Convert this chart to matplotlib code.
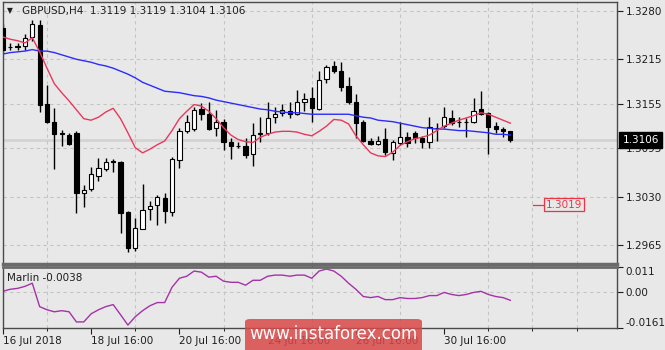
import numpy as np
import matplotlib

matplotlib.use("Agg")
import matplotlib.pyplot as plt
from matplotlib.patches import FancyBboxPatch

plt.rcParams.update({"font.family": "DejaVu Sans", "font.size": 7.5})

# GBPUSD H4, 16 Jul 16:00 .. 1 Aug 04:00
opens = [1.3257, 1.3231, 1.3233, 1.3233, 1.3245, 1.3261, 1.3155, 1.3131, 1.3116, 1.3113,
         1.3116, 1.3035, 1.3040, 1.3058, 1.3067, 1.3078, 1.3077, 1.3009, 1.2961, 1.2987,
         1.3014, 1.3019, 1.3028, 1.3009, 1.3079, 1.3119, 1.3121, 1.3148, 1.3141, 1.3123,
         1.3131, 1.3104, 1.3098, 1.3098, 1.3088, 1.3115, 1.3116, 1.3137, 1.3143, 1.3145,
         1.3141, 1.3158, 1.3163, 1.3148, 1.3188, 1.3206, 1.3199, 1.3179, 1.3158, 1.3131,
         1.3105, 1.3101, 1.3108, 1.3089, 1.3102, 1.3110, 1.3116, 1.3109, 1.3104, 1.3123,
         1.3125, 1.3136, 1.3131, 1.3131, 1.3131, 1.3148, 1.3143, 1.3125, 1.3121, 1.3119]
highs = [1.3262, 1.3237, 1.3237, 1.3249, 1.3268, 1.3268, 1.3180, 1.3149, 1.3120, 1.3116,
         1.3119, 1.3046, 1.3070, 1.3082, 1.3082, 1.3081, 1.3078, 1.3011, 1.3001, 1.3047,
         1.3024, 1.3032, 1.3035, 1.3083, 1.3123, 1.3140, 1.3151, 1.3156, 1.3158, 1.3147,
         1.3135, 1.3109, 1.3104, 1.3109, 1.3129, 1.3137, 1.3158, 1.3151, 1.3155, 1.3158,
         1.3174, 1.3170, 1.3178, 1.3199, 1.3207, 1.3213, 1.3211, 1.3191, 1.3168, 1.3133,
         1.3109, 1.3112, 1.3123, 1.3106, 1.3131, 1.3117, 1.3119, 1.3112, 1.3137, 1.3129,
         1.3151, 1.3147, 1.3137, 1.3136, 1.3163, 1.3172, 1.3144, 1.3131, 1.3124, 1.3119]
lows = [1.3225, 1.3228, 1.3228, 1.3228, 1.3240, 1.3144, 1.3129, 1.3067, 1.3098, 1.3100,
        1.3008, 1.3016, 1.3038, 1.3051, 1.3065, 1.3063, 1.2981, 1.2956, 1.2957, 1.2987,
        1.2999, 1.2992, 1.2995, 1.3004, 1.3069, 1.3116, 1.3119, 1.3133, 1.3120, 1.3112,
        1.3093, 1.3081, 1.3096, 1.3082, 1.3071, 1.3104, 1.3113, 1.3129, 1.3139, 1.3136,
        1.3140, 1.3145, 1.3131, 1.3147, 1.3183, 1.3197, 1.3172, 1.3155, 1.3109, 1.3104,
        1.3100, 1.3100, 1.3086, 1.3079, 1.3100, 1.3097, 1.3102, 1.3096, 1.3096, 1.3105,
        1.3123, 1.3127, 1.3124, 1.3110, 1.3129, 1.3140, 1.3088, 1.3116, 1.3110, 1.3104]
closes = [1.3228, 1.3232, 1.3232, 1.3244, 1.3263, 1.3153, 1.3131, 1.3114, 1.3114, 1.3101,
          1.3035, 1.3039, 1.3061, 1.3069, 1.3077, 1.3077, 1.3008, 1.2961, 1.2988, 1.3012,
          1.3018, 1.3030, 1.3011, 1.3081, 1.3119, 1.3131, 1.3147, 1.3141, 1.3121, 1.3131,
          1.3104, 1.3098, 1.3098, 1.3086, 1.3113, 1.3116, 1.3136, 1.3141, 1.3147, 1.3141,
          1.3158, 1.3162, 1.3149, 1.3187, 1.3205, 1.3199, 1.3178, 1.3158, 1.3129, 1.3105,
          1.3101, 1.3105, 1.3090, 1.3104, 1.3110, 1.3102, 1.3109, 1.3104, 1.3124, 1.3123,
          1.3137, 1.3129, 1.3131, 1.3130, 1.3145, 1.3141, 1.3124, 1.3121, 1.3119, 1.3106]

ma_slow = [1.3222, 1.3224, 1.3225, 1.3226, 1.3228, 1.3226, 1.3226, 1.3224, 1.3221, 1.3218,
           1.3215, 1.3213, 1.3211, 1.3208, 1.3206, 1.3203, 1.3199, 1.3195, 1.3190, 1.3184,
           1.3180, 1.3176, 1.3172, 1.3171, 1.3170, 1.3168, 1.3166, 1.3165, 1.3163, 1.3160,
           1.3158, 1.3156, 1.3154, 1.3152, 1.3150, 1.3148, 1.3147, 1.3145, 1.3144, 1.3143,
           1.3143, 1.3142, 1.3141, 1.3141, 1.3141, 1.3141, 1.3141, 1.3141, 1.3139, 1.3137,
           1.3136, 1.3133, 1.3132, 1.3131, 1.3129, 1.3127, 1.3125, 1.3123, 1.3122, 1.3121,
           1.3121, 1.3120, 1.3119, 1.3119, 1.3118, 1.3117, 1.3116, 1.3114, 1.3114, 1.3113]
ma_fast = [1.3245, 1.3242, 1.3240, 1.3237, 1.3244, 1.3225, 1.3203, 1.3182, 1.3170, 1.3159,
           1.3147, 1.3135, 1.3133, 1.3137, 1.3144, 1.3149, 1.3135, 1.3116, 1.3096, 1.3089,
           1.3094, 1.3100, 1.3105, 1.3119, 1.3135, 1.3145, 1.3154, 1.3152, 1.3145, 1.3135,
           1.3123, 1.3113, 1.3107, 1.3104, 1.3103, 1.3110, 1.3114, 1.3117, 1.3118, 1.3118,
           1.3117, 1.3114, 1.3112, 1.3118, 1.3125, 1.3134, 1.3133, 1.3128, 1.3112, 1.3100,
           1.3089, 1.3085, 1.3084, 1.3090, 1.3099, 1.3104, 1.3108, 1.3110, 1.3113, 1.3119,
           1.3125, 1.3129, 1.3133, 1.3136, 1.3139, 1.3143, 1.3141, 1.3137, 1.3133, 1.3129]
marlin = [0.0002, 0.0011, 0.0015, 0.0024, 0.0038, -0.0066, -0.0080, -0.0089, -0.0084, -0.0089,
          -0.0134, -0.0134, -0.0098, -0.0080, -0.0066, -0.0057, -0.0102, -0.0148, -0.0111, -0.0084,
          -0.0062, -0.0048, -0.0048, 0.0020, 0.0060, 0.0069, 0.0092, 0.0087, 0.0065, 0.0069,
          0.0047, 0.0042, 0.0042, 0.0029, 0.0051, 0.0051, 0.0069, 0.0074, 0.0074, 0.0069,
          0.0074, 0.0074, 0.0060, 0.0092, 0.0101, 0.0092, 0.0069, 0.0038, 0.0011, -0.0021,
          -0.0026, -0.0021, -0.0035, -0.0035, -0.0026, -0.0030, -0.0030, -0.0026, -0.0017, -0.0017,
          -0.0003, -0.0012, -0.0017, -0.0012, -0.0003, 0.0002, -0.0012, -0.0021, -0.0026, -0.0038]

price_ticks = [1.3280, 1.3215, 1.3155, 1.3095, 1.3030, 1.2965]
marlin_ticks = [0.011, 0.0, -0.0161]
marlin_tick_labels = ["0.011", "0.00", "-0.0161"]
date_labels = ["16 Jul 2018", "18 Jul 16:00", "20 Jul 16:00",
               "24 Jul 16:00", "26 Jul 16:00", "30 Jul 16:00"]
target_level = 1.3019

BG = "#e8e8e8"
GRID = "#c4c4c4"
TXT = "#1e1e1e"

W, H = 665, 350
fig = plt.figure(figsize=(W / 100, H / 100), dpi=100, facecolor=BG)
ax = fig.add_axes([2.5 / W, 1 - 264 / H, (617 - 2.5) / W, 262 / H], facecolor=BG)
ax2 = fig.add_axes([2.5 / W, 1 - 328 / H, (617 - 2.5) / W, 61 / H], facecolor=BG, sharex=ax)

o, h, l, c = map(np.array, (opens, highs, lows, closes))
x = np.arange(len(o))
up = c >= o

ax.vlines(x, l, h, color="black", lw=1, zorder=2)
ax.bar(x[up], (c - o)[up], bottom=o[up], width=0.58, color="white",
       edgecolor="black", lw=0.8, zorder=3)
ax.bar(x[~up], (o - c)[~up], bottom=c[~up], width=0.58, color="black",
       edgecolor="black", lw=0.8, zorder=3)
ax.plot(x, ma_slow, color="#2b2bff", lw=1, zorder=4)
ax.plot(x, ma_fast, color="#e8385c", lw=1, zorder=4)
ax.axhline(c[-1], color="#d3d3d3", lw=2, zorder=1)

# target price label
ax.plot([72.1, 73.6], [target_level, target_level], color="#ee3344", lw=0.9, zorder=5)
ax.text(73.8, target_level, f"{target_level:.4f}", color="#ee3344", va="center", ha="left",
        zorder=6, bbox=dict(boxstyle="square,pad=0.15", fc=BG, ec="#ee3344", lw=0.9))

xmax = 83.5
ax.set_xlim(-0.05, xmax)
ax.set_ylim(1.29394, 1.32921)
ax.set_yticks(price_ticks, [f"{v:.4f}" for v in price_ticks])
ax.yaxis.tick_right()
ax.tick_params(axis="y", length=4, width=0.8, color=TXT, labelcolor=TXT, pad=2)
ax.tick_params(axis="x", length=0, labelbottom=False)

grid_ticks = np.arange(0, xmax, 6)
for a in (ax, ax2):
    a.set_xticks(grid_ticks, minor=True)
    a.grid(True, which="minor", axis="x", color=GRID, lw=0.8, ls=(0, (3, 3)))
    for s in a.spines.values():
        s.set_color("#4a4a4a")
        s.set_linewidth(1)
ax.grid(True, which="major", axis="y", color=GRID, lw=0.8, ls=(0, (3, 3)))
ax.spines["bottom"].set_linewidth(2.5)
ax.spines["bottom"].set_color("#6a6a6a")
ax2.spines["top"].set_linewidth(2)
ax2.spines["top"].set_color("#6a6a6a")

# current price box
ax.annotate(f"{c[-1]:.4f}", xy=(1, c[-1]), xycoords=("axes fraction", "data"),
            xytext=(4, 0), textcoords="offset points", va="center", ha="left",
            color="white", annotation_clip=False, zorder=10,
            bbox=dict(boxstyle="square,pad=0.3", fc="black", ec="black"))

ax.text(0.032, 0.985, "GBPUSD,H4  " + " ".join(f"{v:.4f}" for v in (o[-1], h[-1], l[-1], c[-1])),
        transform=ax.transAxes, va="top", ha="left", color=TXT)
ax.text(0.008, 0.985, "\u25bc", transform=ax.transAxes, va="top", ha="left",
        color=TXT, fontsize=5.5)

# Marlin panel
ax2.plot(x, marlin, color="#a532a8", lw=1)
ax2.set_ylim(-0.0161, 0.011)
ax2.set_yticks(marlin_ticks, marlin_tick_labels)
ax2.yaxis.tick_right()
ax2.tick_params(axis="y", length=4, width=0.8, color=TXT, labelcolor=TXT, pad=2)
labs = ax2.get_yticklabels()
labs[0].set_va("top")
labs[2].set_va("bottom")
ax2.axhline(0, color=GRID, lw=0.8, ls=(0, (3, 3)), zorder=0)
ax2.set_xticks(np.arange(0, len(x), 12), date_labels)
ax2.tick_params(axis="x", length=4, width=0.8, color=TXT, labelcolor=TXT, pad=2)
for t in ax2.get_xticklabels():
    t.set_ha("left")
ax2.text(0.008, 0.9, f"Marlin {marlin[-1]:.4f}", transform=ax2.transAxes,
         va="top", ha="left", color=TXT)

# watermark
fig.patches.append(FancyBboxPatch((245 / W, -0.02), 177 / W, 31 / H + 0.02,
                                  boxstyle="round,pad=0,rounding_size=0.008",
                                  transform=fig.transFigure, fc="#d94848", ec="none",
                                  alpha=0.85, zorder=20))
fig.text(333 / W, 1 - 334 / H, "www.instaforex.com", color="white", fontsize=12,
         ha="center", va="center", zorder=21)

fig.savefig("out.png", dpi=100, facecolor=BG)
